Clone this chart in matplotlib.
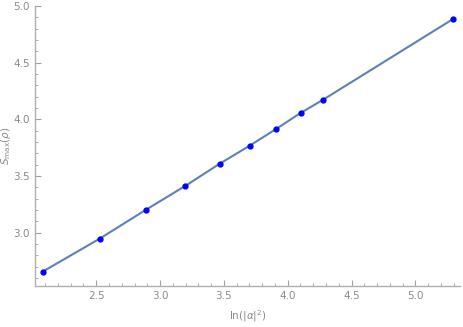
import matplotlib
matplotlib.use("Agg")
import matplotlib.pyplot as plt
from matplotlib.ticker import MultipleLocator

x_vals = [2.079, 2.526, 2.890, 3.199, 3.466, 3.701, 3.912, 4.103, 4.277, 5.298]
y_vals = [2.656, 2.947, 3.203, 3.414, 3.608, 3.767, 3.917, 4.058, 4.173, 4.887]
x_label = r"ln($|\alpha|^2$)"
y_label = r"$S_{\mathrm{max}}(\rho)$"

gray = "#8a8a8a"
plt.rcParams["font.family"] = ["DejaVu Sans"]
plt.rcParams["mathtext.fontset"] = "dejavusans"

fig = plt.figure(figsize=(4.63, 3.27), dpi=100)
ax = fig.add_axes([35/463, 41/327, 425/463, 280/327])
ax.plot(x_vals, y_vals, color="#5E81B5", lw=1.5, zorder=2)
ax.plot(x_vals, y_vals, "o", color="#0000ff", ms=3.5, zorder=3)

ax.set_xlim(2.02, 5.35)
ax.set_ylim(2.53, 5.0)
ax.xaxis.set_major_locator(MultipleLocator(0.5))
ax.xaxis.set_minor_locator(MultipleLocator(0.1))
ax.yaxis.set_major_locator(MultipleLocator(0.5))
ax.yaxis.set_minor_locator(MultipleLocator(0.1))
ax.set_xticks([2.5, 3.0, 3.5, 4.0, 4.5, 5.0])
ax.set_yticks([3.0, 3.5, 4.0, 4.5, 5.0])

for s in ["top", "right"]:
    ax.spines[s].set_visible(False)
for s in ["left", "bottom"]:
    ax.spines[s].set_color("#b0b0b0")
    ax.spines[s].set_linewidth(1.0)
ax.tick_params(which="major", direction="in", length=4, color="#a0a0a0",
               labelcolor=gray, labelsize=7.5, width=0.8)
ax.tick_params(which="minor", direction="in", length=2, color="#a0a0a0", width=0.6)
ax.set_xlabel(x_label, color=gray, fontsize=7.5, labelpad=5)
ax.set_ylabel(y_label, color=gray, fontsize=7.5)
ax.yaxis.set_label_coords(-0.052, 0.5)

fig.savefig("out.png", dpi=100)
